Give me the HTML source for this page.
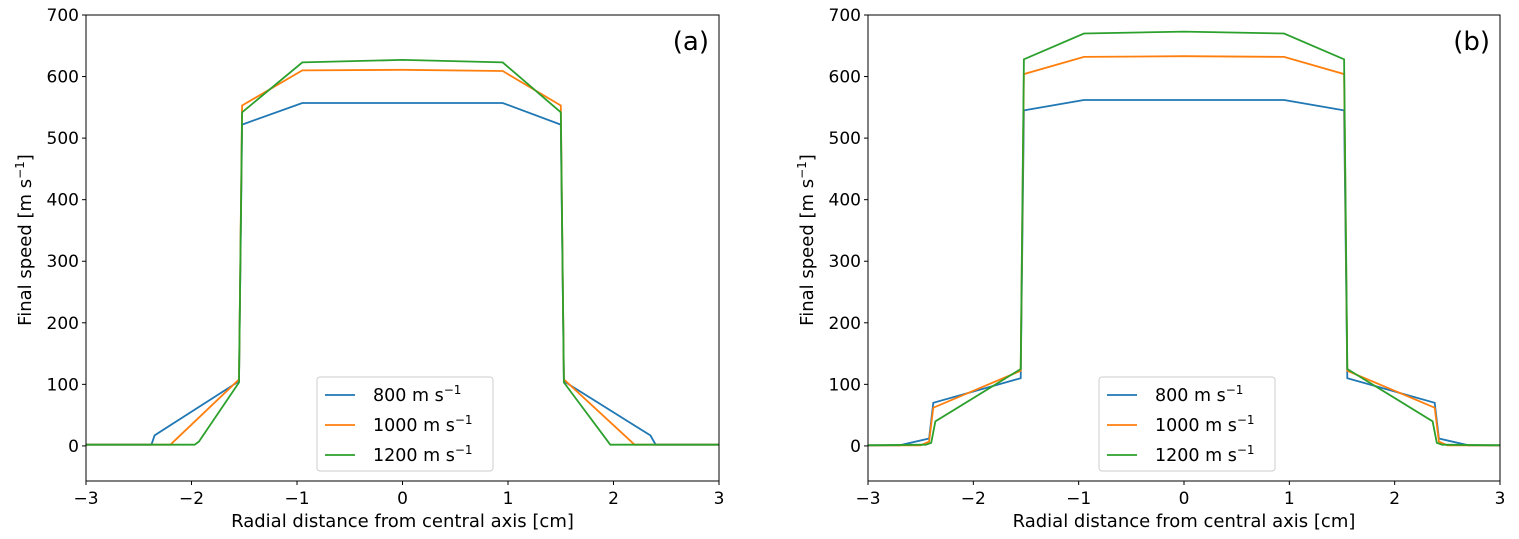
<!DOCTYPE html>
<html><head><meta charset="utf-8"><style>
body{margin:0;background:#fff;}
svg{display:block;font-family:"DejaVu Sans","Liberation Sans",sans-serif;}
</style></head><body>
<svg id="fig" width="1519" height="539"></svg>
<script>
const xTicks=[-3,-2,-1,0,1,2,3];
const yTicks=[0,100,200,300,400,500,600,700];
const seriesNames=["800 m s","1000 m s","1200 m s"];
const colors=["#1f77b4","#ff7f0e","#2ca02c"];
const aBlueX=[-3,-2.38,-2.35,-1.55,-1.52,-0.95,0,0.95,1.5,1.53,2.35,2.4,3];
const aBlueY=[2,2,17,105,522,557,557,557,522,105,17,2,2];
const aOrangeX=[-3,-2.2,-1.55,-1.52,-0.95,0,0.95,1.5,1.53,2.2,3];
const aOrangeY=[2,2,108,553,610,611,609,553,108,2,2];
const aGreenX=[-3,-1.97,-1.93,-1.55,-1.52,-0.95,0,0.95,1.5,1.53,1.97,3];
const aGreenY=[2,2,7,103,542,623,627,623,542,103,2,2];
const bBlueX=[-3,-2.7,-2.42,-2.38,-1.55,-1.52,-0.95,0,0.95,1.52,1.55,2.38,2.42,2.7,3];
const bBlueY=[1,1,12,70,110,545,562,562,562,545,110,70,12,1,1];
const bOrangeX=[-3,-2.5,-2.42,-2.38,-1.55,-1.52,-0.95,0,0.95,1.52,1.55,2.38,2.42,2.5,3];
const bOrangeY=[1,1,7,62,122,604,632,633,632,604,122,62,7,1,1];
const bGreenX=[-3,-2.45,-2.4,-2.36,-1.55,-1.52,-0.95,0,0.95,1.52,1.55,2.36,2.4,2.45,3];
const bGreenY=[1,2,5,40,125,628,670,673,670,628,125,40,5,2,1];

const NS="http://www.w3.org/2000/svg";
const svg=document.getElementById('fig');
function mk(t,a,p){const e=document.createElementNS(NS,t);for(const k in a)e.setAttribute(k,a[k]);(p||svg).appendChild(e);return e;}
function panel(id,L,R,tag,data,legX){
  const T=15,B=481,ymin=-57,ymax=700;
  const sx=v=>L+(v+3)/6*(R-L);
  const sy=v=>B-(v-ymin)/(ymax-ymin)*(B-T);
  const g=mk('g',{});
  
  
  data.forEach((d,i)=>{
    const pts=d[0].map((x,j)=>sx(x).toFixed(1)+','+sy(d[1][j]).toFixed(1)).join(' ');
    const pl=mk('polyline',{points:pts,fill:'none',stroke:colors[i],'stroke-width':1.8},g);
    
    
  });
  const fr=mk('rect',{x:L,y:T,width:R-L,height:B-T,fill:'none',stroke:'#000','stroke-width':1},g);
  
  
  xTicks.forEach(v=>{
    mk('line',{x1:sx(v),x2:sx(v),y1:B,y2:B+4,stroke:'#000'},g);
    const t=mk('text',{x:sx(v),y:B+23,'text-anchor':'middle','font-size':17},g);
    t.textContent=v<0?'\u2212'+(-v):v;
    
    
  });
  yTicks.forEach(v=>{
    mk('line',{x1:L-4,x2:L,y1:sy(v),y2:sy(v),stroke:'#000'},g);
    const t=mk('text',{x:L-7,y:sy(v)+6,'text-anchor':'end','font-size':17},g);
    t.textContent=v;
    
    
  });
  const xl=mk('text',{x:(L+R)/2,y:527,'text-anchor':'middle','font-size':18},g);
  xl.textContent='Radial distance from central axis [cm]';
  
  
  const yl=mk('text',{x:0,y:0,'text-anchor':'middle','font-size':18,transform:`translate(${L-55},240) rotate(-90)`},g);
  yl.innerHTML='Final speed [m s<tspan dy="-7" font-size="12">\u22121</tspan><tspan dy="7">]</tspan>';
  
  
  const tg=mk('text',{x:R-10,y:50,'text-anchor':'end','font-size':26},g);
  tg.textContent='('+tag+')';
  
  
  const lg=mk('g',{},g);
  
  
  mk('rect',{x:legX,y:377,width:176,height:94,rx:3,fill:'#fff',stroke:'#ccc'},lg);
  seriesNames.forEach((n,i)=>{
    const y=395+i*30;
    mk('line',{x1:legX+8,x2:legX+38,y1:y,y2:y,stroke:colors[i],'stroke-width':1.8},lg);
    const t=mk('text',{x:legX+56,y:y+6,'font-size':17.5},lg);
    t.innerHTML=n+'<tspan dy="-7" font-size="12">\u22121</tspan>';
    
    
  });
}
panel('a',86,719,'a',[[aBlueX,aBlueY],[aOrangeX,aOrangeY],[aGreenX,aGreenY]],317);
panel('b',868,1500,'b',[[bBlueX,bBlueY],[bOrangeX,bOrangeY],[bGreenX,bGreenY]],1099);
</script>
</body></html>
